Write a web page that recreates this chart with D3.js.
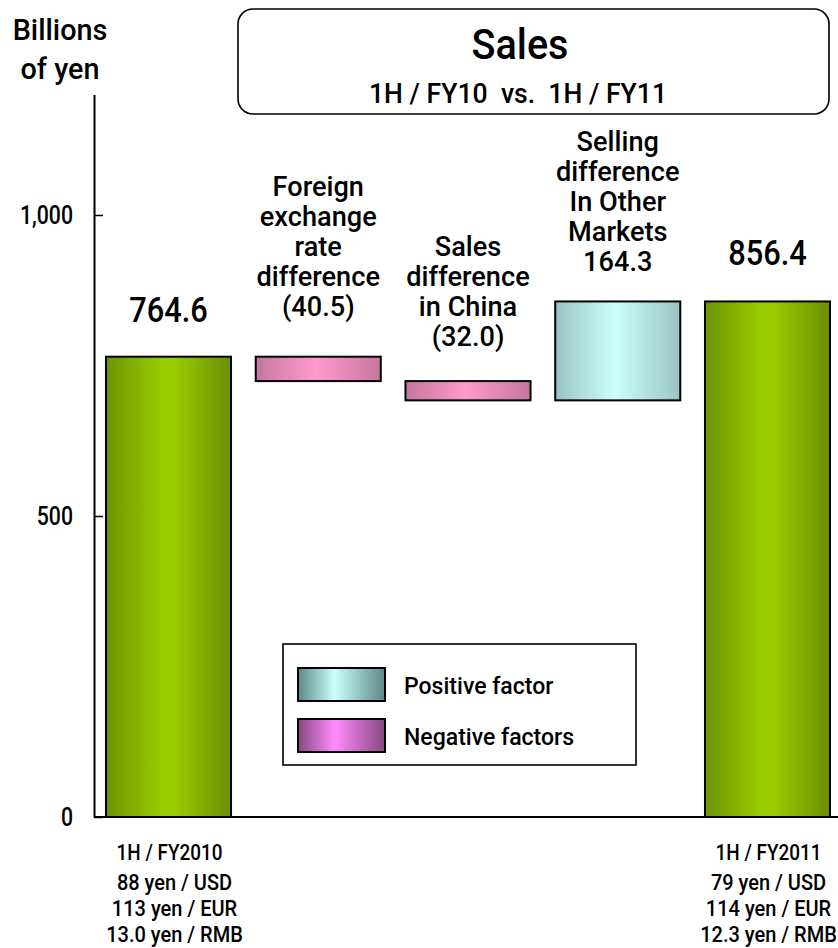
<!DOCTYPE html>
<html>
<head>
<meta charset="utf-8">
<script src="https://cdn.jsdelivr.net/npm/d3@7"></script>
<style>
  html, body { margin: 0; padding: 0; background: #fff; }
  svg { display: block; }
  text { font-family: Roboto, "Liberation Sans", Arial, sans-serif; font-weight: 500; fill: #000; }
</style>
</head>
<body>
<svg id="chart" width="838" height="948"></svg>
<script>
// ---- data ----
const steps = ["FY2010", "FX", "China", "Other", "FY2011"];
const stepValues = [764.6, -40.5, -32.0, 164.3, 856.4];
const stepKinds = ["total", "negative", "negative", "positive", "total"];
const stepCaptions = [
  [],
  ["Foreign", "exchange", "rate", "difference"],
  ["Sales", "difference", "in China"],
  ["Selling", "difference", "In Other", "Markets"],
  []
];
const yTicks = [0, 500, 1000];
const periodLabels = ["1H / FY2010", "1H / FY2011"];
const periodRates = [
  ["88 yen / USD", "113 yen / EUR", "13.0 yen / RMB"],
  ["79 yen / USD", "114 yen / EUR", "12.3 yen / RMB"]
];
const legendKinds = ["positive", "negative"];
const legendLabels = ["Positive factor", "Negative factors"];
const titleText = "Sales";
const subtitleText = "1H / FY10  vs.  1H / FY11";
const unitLines = ["Billions", "of yen"];

// ---- layout ----
const svg = d3.select("#chart");
const axisX = 94;
const x = d3.scaleBand().domain(steps).range([94, 842]).paddingInner(0.165).paddingOuter(0.08);
const y = d3.scaleLinear().domain([0, 1200]).range([817, 94.6]);

// gap between a bar's top and the baseline of its last label line
const labelGap = [35, 41, 35, 30, 36];
// horizontal nudge of the exchange-rate lines under each total bar
const rateNudge = [6, 1];

const fmt = d3.format(".1f");

// ---- gradients ----
const defs = svg.append("defs");
const gradients = {
  total: [["0%", "#6c9500"], ["45%", "#99cc00"], ["55%", "#99cc00"], ["100%", "#6a8f00"]],
  negative: [["0%", "#c4779f"], ["48%", "#ff99cc"], ["100%", "#c4779f"]],
  positive: [["0%", "#99c3c3"], ["48%", "#ccffff"], ["100%", "#99c3c3"]],
  legend_positive: [["0%", "#5c8787"], ["42%", "#ccffff"], ["100%", "#5c8787"]],
  legend_negative: [["0%", "#874880"], ["42%", "#ff8cff"], ["100%", "#874880"]]
};
Object.entries(gradients).forEach(([id, stops]) => {
  const g = defs.append("linearGradient").attr("id", "g_" + id)
    .attr("x1", 0).attr("x2", 1).attr("y1", 0).attr("y2", 0);
  stops.forEach(([o, c]) => g.append("stop").attr("offset", o).attr("stop-color", c));
});

// horizontally condensed text helper
function label(parent, tx, ty, str, size, anchor, sx) {
  return parent.append("text")
    .attr("transform", `translate(${tx},${ty}) scale(${sx},1)`)
    .attr("text-anchor", anchor)
    .style("font-size", size + "px")
    .style("white-space", "pre")
    .text(str);
}

// multi-line variant: one text element, one tspan per line; (tx, ty) is the first baseline
function block(parent, tx, ty, lines, size, lineStep, anchor, sx) {
  const t = parent.append("text")
    .attr("transform", `translate(${tx},${ty}) scale(${sx},1)`)
    .attr("text-anchor", anchor)
    .style("font-size", size + "px")
    .style("white-space", "pre");
  lines.forEach((s, k) => {
    t.append("tspan").attr("x", 0).attr("dy", k === 0 ? 0 : lineStep).text(s);
  });
  return t;
}

// ---- bars: running totals ----
let running = 0;
const bars = steps.map((s, i) => {
  const v = stepValues[i];
  const kind = stepKinds[i];
  let lo, hi;
  if (kind === "total") { lo = 0; hi = v; running = v; }
  else { const a = running, b = running + v; lo = Math.min(a, b); hi = Math.max(a, b); running = b; }
  const valueText = kind === "negative" ? `(${fmt(-v)})` : fmt(v);
  return { step: s, value: v, kind, lo, hi, valueText, captions: stepCaptions[i], i };
});

svg.append("g").selectAll("rect").data(bars).join("rect")
  .attr("x", d => x(d.step))
  .attr("width", x.bandwidth())
  .attr("y", d => y(d.hi))
  .attr("height", d => y(d.lo) - y(d.hi))
  .attr("fill", d => `url(#g_${d.kind})`)
  .attr("stroke", "#000")
  .attr("stroke-width", 2);

// ---- bar labels ----
const labels = svg.append("g");
bars.forEach(d => {
  const cx = x(d.step) + x.bandwidth() / 2;
  const top = y(d.hi);
  if (d.kind === "total") {
    label(labels, cx, top - labelGap[d.i], d.valueText, 35, "middle", 0.88);
  } else {
    const lines = d.captions.concat([d.valueText]);
    const n = lines.length;
    block(labels, cx, top - labelGap[d.i] - (n - 1) * 30, lines, 28, 30, "middle", 0.97);
  }
});

// ---- axis ----
const axis = d3.axisLeft(y).tickValues(yTicks).tickFormat(d3.format(",")).tickSize(-9).tickSizeOuter(0);
const ag = svg.append("g").attr("transform", `translate(${axisX},0)`).call(axis);
ag.select(".domain").attr("stroke", "#000").attr("stroke-width", 2);
ag.selectAll(".tick line").attr("stroke", "#000").attr("stroke-width", 1.5);
ag.selectAll(".tick text")
  .attr("x", 0)
  .attr("transform", "translate(-21,0) scale(0.85,1)")
  .style("font-size", "25px")
  .style("font-family", "Roboto, \"Liberation Sans\", Arial, sans-serif")
  .style("font-weight", "500")
  .attr("fill", "#000");

// baseline along zero
svg.append("line")
  .attr("x1", axisX).attr("x2", 838)
  .attr("y1", y(0)).attr("y2", y(0))
  .attr("stroke", "#000").attr("stroke-width", 2.2);

// unit label
block(svg, 60, 40, unitLines, 30, 39, "middle", 0.96);

// ---- title box ----
svg.append("rect")
  .attr("x", 238).attr("y", 9).attr("width", 591).attr("height", 105)
  .attr("rx", 15).attr("ry", 15)
  .attr("fill", "#fff").attr("stroke", "#000").attr("stroke-width", 1.6);
label(svg, 520, 59, titleText, 43, "middle", 0.92);
label(svg, 518, 103, subtitleText, 28, "middle", 0.95);

// ---- legend ----
const lg = svg.append("g");
lg.append("rect")
  .attr("x", 283).attr("y", 644).attr("width", 353).attr("height", 121)
  .attr("fill", "#fff").attr("stroke", "#000").attr("stroke-width", 1.6);
legendKinds.forEach((k, i) => {
  const top = 668 + i * 51;
  lg.append("rect")
    .attr("x", 298).attr("y", top).attr("width", 87).attr("height", 33)
    .attr("fill", `url(#g_legend_${k})`)
    .attr("stroke", "#000").attr("stroke-width", 2);
  label(lg, 404, top + 26, legendLabels[i], 24, "start", 0.96);
});

// ---- period / exchange-rate notes under the total bars ----
const notes = svg.append("g");
[steps[0], steps[steps.length - 1]].forEach((s, i) => {
  const cx = x(s) + x.bandwidth() / 2;
  label(notes, cx + 1, 860, periodLabels[i], 22, "middle", 0.86);
  block(notes, cx + rateNudge[i], 890, periodRates[i], 22, 26, "middle", 0.91);
});
</script>
</body>
</html>
